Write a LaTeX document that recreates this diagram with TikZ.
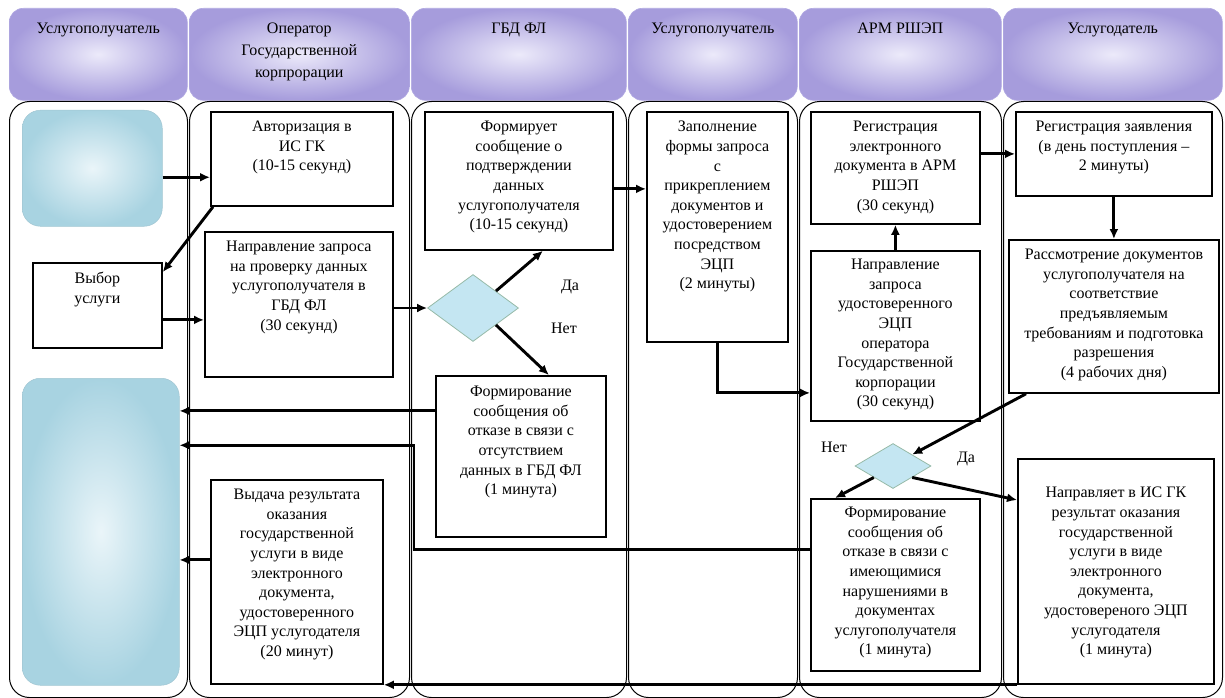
\documentclass[tikz,border=0pt]{standalone}
\usepackage{fontspec}
\setmainfont{Liberation Serif}
\newfontfamily\tnr{Liberation Serif}
\usetikzlibrary{arrows.meta,shapes.geometric,calc}
\definecolor{hdin}{RGB}{236,234,250}
\definecolor{hdout}{RGB}{166,156,220}
\definecolor{hdedge}{RGB}{178,170,226}
\definecolor{bluein}{RGB}{234,245,249}
\definecolor{blueout}{RGB}{168,211,225}
\definecolor{diafill}{RGB}{196,230,242}
\definecolor{diaedge}{RGB}{150,186,168}
\begin{document}
\begin{tikzpicture}[x=1pt,y=-1pt,
  lane/.style={draw, line width=1pt, rounded corners=20pt, anchor=north west, inner sep=0pt, minimum height=596pt},
  head/.style={rounded corners=14pt, inner color=hdin, outer color=hdout, draw=hdedge, line width=0.6pt, anchor=north west, inner sep=0pt, minimum height=92pt},
  box/.style={draw, line width=1.8pt, anchor=north west, inner sep=0pt, fill=white},
  bluebox/.style={inner color=bluein, outer color=blueout, draw=blueout!85!gray, line width=0.5pt, anchor=north west, inner sep=0pt},
  dia/.style={diamond, fill=diafill, draw=diaedge, line width=0.8pt, inner sep=0pt},
  txt/.style={align=center, inner sep=0pt, anchor=north, font=\tnr\fontsize{16}{19.6}\selectfont},
  htxt/.style={align=center, inner sep=0pt, anchor=north, font=\tnr\fontsize{16}{22}\selectfont},
  lbl/.style={inner sep=0pt, font=\tnr\fontsize{16}{19.6}\selectfont},
  arr/.style={line width=2.9pt, -{Latex[length=10pt,width=9pt]}}
]
\useasboundingbox (0,0) rectangle (1225,698);

% headers
\node[head, minimum width=178pt] (h1) at (9,8) {};
\node[head, minimum width=220pt] (h2) at (189,8) {};
\node[head, minimum width=215pt] (h3) at (411,8) {};
\node[head, minimum width=169pt] (h4) at (628,8) {};
\node[head, minimum width=202pt] (h5) at (799,8) {};
\node[head, minimum width=219pt] (h6) at (1003,8) {};
\node[htxt] (h1t) at ([yshift=-15pt]h1.north) {Услугополучатель};
\node[htxt] (h2t) at ([yshift=-15pt]h2.north) {Оператор\\Государственной\\корпрорации};
\node[htxt] (h3t) at ([yshift=-15pt]h3.north) {ГБД ФЛ};
\node[htxt] (h4t) at ([yshift=-15pt]h4.north) {Услугополучатель};
\node[htxt] (h5t) at ([yshift=-15pt]h5.north) {АРМ РШЭП};
\node[htxt] (h6t) at ([yshift=-15pt]h6.north) {Услугодатель};

% lanes
\node[lane, minimum width=178pt] (l1) at (9,101) {};
\node[lane, minimum width=220pt] (l2) at (189,101) {};
\node[lane, minimum width=215pt] (l3) at (411,101) {};
\node[lane, minimum width=169pt] (l4) at (628,101) {};
\node[lane, minimum width=202pt] (l5) at (799,101) {};
\node[lane, minimum width=219pt] (l6) at (1003,101) {};

% lane 1
\node[bluebox, rounded corners=18pt, minimum width=140pt, minimum height=116pt] (c1top) at (22,110) {};
\node[box, minimum width=129pt, minimum height=85pt] (vybor) at (32,262) {};
\node[txt] (vybort) at ([yshift=-10pt]vybor.north) {Выбор\\услуги};
\node[bluebox, rounded corners=18pt, minimum width=157pt, minimum height=307pt] (c1bot) at (22,378) {};

% lane 2
\node[box, minimum width=182pt, minimum height=94pt] (auth) at (210,111) {};
\node[txt] (autht) at ([yshift=-10pt]auth.north) {Авторизация в\\ИС ГК\\(10-15 секунд)};
\node[box, minimum width=188pt, minimum height=145pt] (napr1) at (204,231) {};
\node[txt] (napr1t) at ([yshift=-10pt]napr1.north) {Направление запроса\\на проверку данных\\услугополучателя в\\ГБД ФЛ\\(30 секунд)};
\node[box, minimum width=172pt, minimum height=204pt] (vydacha) at (210,479) {};
\node[txt] (vydachat) at ([yshift=-10pt]vydacha.north) {Выдача результата\\оказания\\государственной\\услуги в виде\\электронного\\документа,\\удостоверенного\\ЭЦП услугодателя\\(20 минут)};

% lane 3
\node[box, minimum width=188pt, minimum height=138pt] (formiruet) at (424,111) {};
\node[txt] (formiruett) at ([yshift=-10pt]formiruet.north) {Формирует\\сообщение о\\подтверждении\\данных\\услугополучателя\\(10-15 секунд)};
\node[dia, minimum width=91pt, minimum height=67pt] (d1) at (473,308) {};
\node[box, minimum width=170pt, minimum height=161pt] (otkaz1) at (435,375) {};
\node[txt] (otkaz1t) at ([yshift=-11pt]otkaz1.north) {Формирование\\сообщения об\\отказе в связи с\\отсутствием\\данных в ГБД ФЛ\\(1 минута)};
\node[lbl] (da1) at (570,287) {Да};
\node[lbl] (net1) at (564,328) {Нет};

% lane 4
\node[box, minimum width=141pt, minimum height=230pt] (zapoln) at (646,111) {};
\node[txt] (zapolnt) at ([yshift=-10pt]zapoln.north) {Заполнение\\формы запроса\\с\\прикреплением\\документов и\\удостоверением\\посредством\\ЭЦП\\(2 минуты)};

% lane 5
\node[box, minimum width=169pt, minimum height=112pt] (regel) at (810,111) {};
\node[txt] (regelt) at ([yshift=-10pt]regel.north) {Регистрация\\электронного\\документа в АРМ\\РШЭП\\(30 секунд)};
\node[box, minimum width=169pt, minimum height=170pt] (napr2) at (810,250) {};
\node[txt] (napr2t) at ([yshift=-9pt]napr2.north) {Направление\\запроса\\удостоверенного\\ЭЦП\\оператора\\Государственной\\корпорации\\(30 секунд)};
\node[dia, minimum width=76pt, minimum height=45pt] (d2) at (893,466) {};
\node[box, minimum width=169pt, minimum height=172pt] (otkaz2) at (810,498) {};
\node[txt] (otkaz2t) at ([yshift=-9pt]otkaz2.north) {Формирование\\сообщения об\\отказе в связи с\\имеющимися\\нарушениями в\\документах\\услугополучателя\\(1 минута)};
\node[lbl] (net2) at (834,447) {Нет};
\node[lbl] (da2) at (966,459) {Да};

% lane 6
\node[box, minimum width=196pt, minimum height=84pt] (regzayav) at (1015,111) {};
\node[txt] (regzayavt) at ([yshift=-10pt]regzayav.north) {Регистрация заявления\\(в день поступления –\\2 минуты)};
\node[box, minimum width=210pt, minimum height=153pt] (rassm) at (1008,239) {};
\node[txt] (rassmt) at ([yshift=-10pt]rassm.north) {Рассмотрение документов\\услугополучателя на\\соответствие\\предъявляемым\\требованиям и подготовка\\разрешения\\(4 рабочих дня)};
\node[box, minimum width=196pt, minimum height=225pt] (napravl) at (1017,458) {};
\node[txt] (napravlt) at ([yshift=-29pt]napravl.north) {Направляет в ИС ГК\\результат оказания\\государственной\\услуги в виде\\электронного\\документа,\\удостовереного ЭЦП\\услугодателя\\(1 минута)};

% connectors
\draw[arr] ([yshift=-9pt]c1top.east) -- ([yshift=-9pt]c1top.east -| auth.west);
\draw[arr] ([xshift=3pt]auth.south west) -- ([yshift=-10pt]vybor.north east);
\draw[arr] ([yshift=-14.5pt]vybor.east) -- ([yshift=-14.5pt]vybor.east -| napr1.west);
\draw[arr] (d1.west -| napr1.east) -- (d1.west);
\draw[arr] (d1.north east) -- ([xshift=24pt]formiruet.south);
\draw[arr] (d1.south east) -- ([xshift=28pt]otkaz1.north);
\draw[arr] ([yshift=45.5pt]otkaz1.west) -- ([yshift=45.5pt]otkaz1.west -| c1bot.east);
\draw[arr] ([yshift=35pt]otkaz2.west) -- ++(-396,0) |- ([yshift=86.5pt]c1bot.east);
\draw[arr] ([yshift=22pt]vydacha.west) -- ([yshift=22pt]vydacha.west -| c1bot.east);
\draw[arr] (napravl.south west) -- (vydacha.south east);
\draw[arr] ([yshift=-8pt]formiruet.east) -- ([yshift=-8pt]formiruet.east -| zapoln.west);
\draw[arr] (zapoln.south) |- ([yshift=-57pt]napr2.west);
\draw[arr] (napr2.north) -- (regel.south);
\draw[arr] (regel.east |- regzayav.west) -- (regzayav.west);
\draw[arr] (regzayav.south) -- (rassm.north);
\draw[arr] ([xshift=18pt]rassm.south west) -- (d2.north east);
\draw[arr] (d2.south west) -- ([xshift=25pt]otkaz2.north west);
\draw[arr] (d2.south east) -- ([yshift=-42pt]napravl.north west);
\end{tikzpicture}
\end{document}
